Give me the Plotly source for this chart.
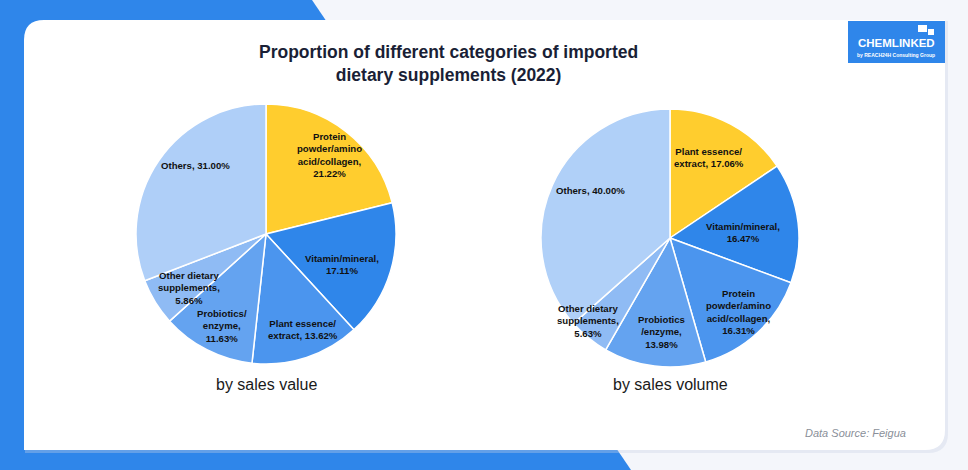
import plotly.graph_objects as go

W, H = 968, 470

# ---------------- data ----------------
value_categories = ["Protein powder/amino acid/collagen", "Vitamin/mineral", "Plant essence/extract",
                    "Probiotics/enzyme", "Other dietary supplements", "Others"]
value_shares = [21.22, 17.11, 13.62, 11.63, 5.86, 31.00]
value_label_names = ["Protein<br>powder/amino<br>acid/collagen,<br>", "Vitamin/mineral,<br>",
                     "Plant essence/<br>extract, ", "Probiotics/<br>enzyme,<br>",
                     "Other dietary<br>supplements,<br>", "Others, "]

volume_categories = ["Plant essence/extract", "Vitamin/mineral", "Protein powder/amino acid/collagen",
                     "Probiotics/enzyme", "Other dietary supplements", "Others"]
volume_shares = [17.06, 16.47, 16.31, 13.98, 5.63, 40.00]
volume_label_names = ["Plant essence/<br>extract, ", "Vitamin/mineral,<br>",
                      "Protein<br>powder/amino<br>acid/collagen,<br>", "Probiotics<br>/enzyme,<br>",
                      "Other dietary<br>supplements,<br>", "Others, "]

title_text = "Proportion of different categories of imported<br>dietary supplements (2022)"
subtitles = ["by sales value", "by sales volume"]
source_text = "Data Source: Feigua"

# ---------------- style / layout ----------------
YELLOW = "#FFCD2E"
B1, B2, B3, B4, B5 = "#2F86EA", "#4B95EE", "#64A3F0", "#8FBBF4", "#AFCFF8"
value_colors = [YELLOW, B1, B2, B3, B4, B5]
volume_colors = [YELLOW, B1, B2, B3, B4, "#B0D0F8"]
FONT = "Liberation Sans, Arial, sans-serif"

# label anchor positions (pixels) for the slice labels
value_label_pos = [(329, 155), (342, 264), (303, 329), (222, 326), (189, 288), (195, 166)]
volume_label_pos = [(709, 157), (743, 232), (738, 312), (661, 332), (588, 321), (590, 190)]


def px(x):
    return x / W


def py(y):
    return 1 - y / H


def labels(names, vals):
    return [f"<b>{n}{v:.2f}%</b>" for n, v in zip(names, vals)]


fig = go.Figure()

pie_common = dict(sort=False, direction="clockwise", rotation=0, textinfo="none",
                  marker_line=dict(color="white", width=1.5), hoverinfo="label+percent",
                  showlegend=False)

fig.add_trace(go.Pie(labels=value_categories, values=value_shares,
                     marker_colors=value_colors,
                     domain=dict(x=[px(136), px(396)], y=[py(364), py(104)]), **pie_common))
fig.add_trace(go.Pie(labels=volume_categories, values=volume_shares,
                     marker_colors=volume_colors,
                     domain=dict(x=[px(541), px(799)], y=[py(367), py(109)]), **pie_common))

shapes = []
# blue band
shapes.append(dict(type="path", xref="paper", yref="paper", layer="below",
                   path=f"M 0 1 L {px(312)} 1 L {px(631)} 0 L 0 0 Z",
                   fillcolor="#2F86EA", line=dict(width=0)))
r = 20


def card_path(x0, y0, x1, y1, r):
    return (f"M {px(x0)} {py(y0 + r)} Q {px(x0)} {py(y0)} {px(x0 + r)} {py(y0)} "
            f"L {px(x1)} {py(y0)} L {px(x1)} {py(y1 - r)} "
            f"Q {px(x1)} {py(y1)} {px(x1 - r)} {py(y1)} L {px(x0)} {py(y1)} Z")


shapes.append(dict(type="path", xref="paper", yref="paper", layer="below",
                   path=card_path(25, 21, 948, 453, r), fillcolor="rgba(200,210,230,0.35)",
                   line=dict(width=0)))
shapes.append(dict(type="path", xref="paper", yref="paper", layer="below",
                   path=card_path(24, 20, 945, 450, r), fillcolor="white", line=dict(width=0)))
# logo box
shapes.append(dict(type="rect", xref="paper", yref="paper", layer="below",
                   x0=px(848), x1=px(945), y0=py(63), y1=py(21),
                   fillcolor="#2F86EA", line=dict(width=0)))
# speech bubbles of logo
shapes.append(dict(type="rect", xref="paper", yref="paper", layer="above",
                   x0=px(918), x1=px(927), y0=py(32), y1=py(25), fillcolor="white", line=dict(width=0)))
shapes.append(dict(type="rect", xref="paper", yref="paper", layer="above",
                   x0=px(928), x1=px(934), y0=py(35), y1=py(29), fillcolor="white", line=dict(width=0)))

annotations = [
    dict(text=f"<b>{title_text}</b>", x=px(448), y=py(64), xref="paper", yref="paper",
         showarrow=False, xanchor="center", yanchor="middle",
         font=dict(family=FONT, size=17.5, color="#1A1F36")),
    dict(text=subtitles[0], x=px(266), y=py(384), xref="paper", yref="paper", showarrow=False,
         xanchor="center", yanchor="middle", font=dict(family=FONT, size=16, color="#1a1a1a")),
    dict(text=subtitles[1], x=px(670), y=py(384), xref="paper", yref="paper", showarrow=False,
         xanchor="center", yanchor="middle", font=dict(family=FONT, size=16, color="#1a1a1a")),
    dict(text=f"<i>{source_text}</i>", x=px(908), y=py(433), xref="paper", yref="paper",
         showarrow=False, xanchor="right", yanchor="middle",
         font=dict(family=FONT, size=11, color="#8A8F99")),
    dict(text="<b>CHEMLINKED</b>", x=px(896), y=py(43), xref="paper", yref="paper",
         showarrow=False, xanchor="center", yanchor="middle",
         font=dict(family=FONT, size=11.5, color="white")),
    dict(text="<b>by REACH24H Consulting Group</b>", x=px(896), y=py(55), xref="paper", yref="paper",
         showarrow=False, xanchor="center", yanchor="middle",
         font=dict(family=FONT, size=5, color="white")),
]

for texts, positions in ((labels(value_label_names, value_shares), value_label_pos),
                         (labels(volume_label_names, volume_shares), volume_label_pos)):
    for t, (x, y) in zip(texts, positions):
        annotations.append(dict(text=t, x=px(x), y=py(y), xref="paper", yref="paper",
                                showarrow=False, xanchor="center", yanchor="middle", align="center",
                                font=dict(family=FONT, size=9.6, color="#111111")))

fig.update_layout(width=W, height=H, margin=dict(l=0, r=0, t=0, b=0),
                  paper_bgcolor="#F4F6FB", plot_bgcolor="#F4F6FB",
                  shapes=shapes, annotations=annotations)

fig.write_html("out.html")
